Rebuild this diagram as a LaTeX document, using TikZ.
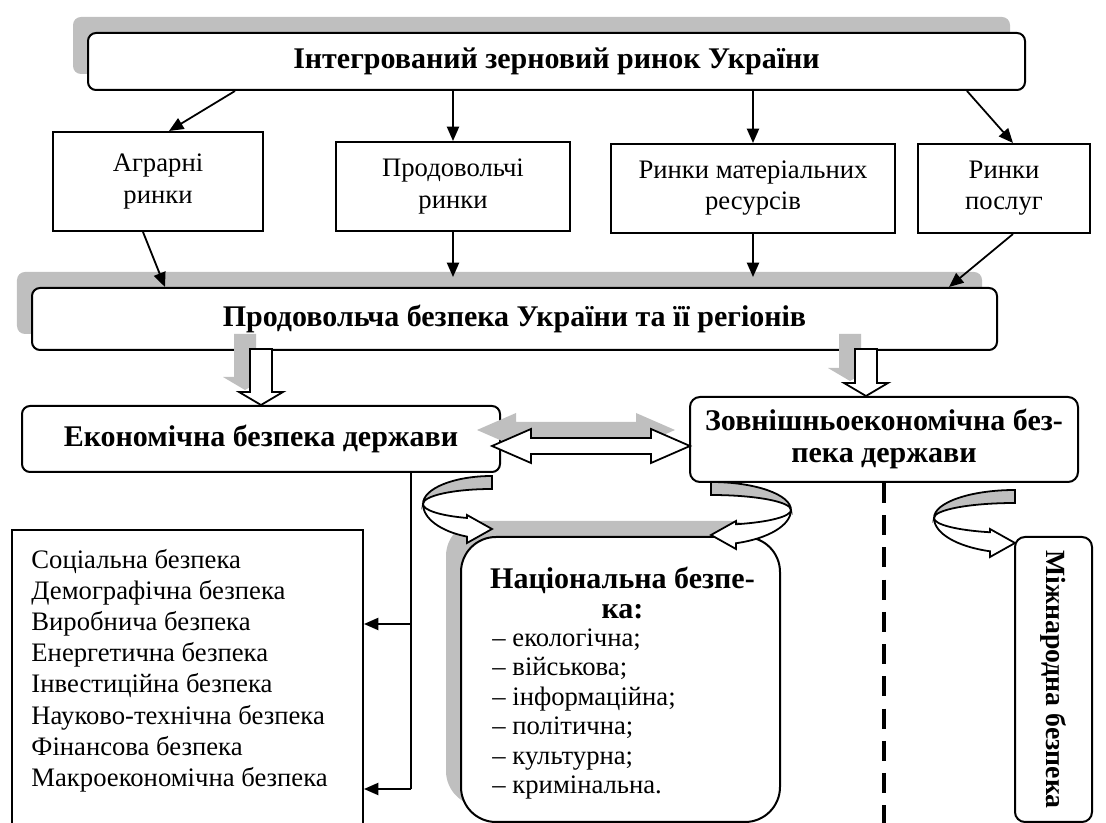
\documentclass[tikz,border=0pt]{standalone}
\usepackage{fontspec}
\setmainfont{Liberation Serif}
\usetikzlibrary{arrows.meta,calc,positioning,shadows}

% hollow block arrows
\newcommand\downshape[1]{(-11,-#1) -- (-11,-13) -- (-22,-13) -- (0,0) -- (22,-13) -- (11,-13) -- (11,-#1) -- cycle}
\newcommand\bothshape[1]{(0,0) -- (39,-17) -- (39,-8) -- ({#1-39},-8) -- ({#1-39},-17) -- (#1,0) -- ({#1-39},17) -- ({#1-39},8) -- (39,8) -- (39,17) -- cycle}

\tikzset{
	blkdown/.pic={
		\fill[gray!50, shift={(-16,-15)}] \downshape{#1};
		\filldraw[blk] \downshape{#1};
	},
	blkboth/.pic={
		\fill[gray!50, shift={(-15,-16)}] \bothshape{#1};
		\filldraw[blk] \bothshape{#1};
	},
	curl/.pic={
		\pgfmathsetmacro\ta{acos(-25/#1)}
		\filldraw[blk, fill=gray!50] (0,-28) arc[start angle=270, end angle=180, x radius=#1, y radius=28]
			arc[start angle=180, end angle=270, x radius=#1, y radius=15] -- cycle;
		\filldraw[blk] (-#1,0) arc[start angle=180, end angle=\ta, x radius=#1, y radius=15]
			-- (-25,11) -- (0,25) -- (-25,39) -- (-25,{35*sin(\ta)})
			arc[start angle=\ta, end angle=180, x radius=#1, y radius=35] -- cycle;
	}
}

\begin{document}
\begin{tikzpicture}[x=0.45pt, y=-0.45pt,
		basic/.style = {draw, line width=0.9pt, fill=white, inner sep=0pt},
		sz/.style 2 args = {minimum width=#1*0.45pt, minimum height=#2*0.45pt},
		rnd/.style   = {basic, rounded corners=3.6pt},
		shd/.style   = {drop shadow={shadow xshift=-6.75pt, shadow yshift=7.2pt, fill=gray!50, opacity=1}},
		mkt/.style   = {basic, align=center, font=\fontsize{12}{14}\selectfont},
		hdr/.style   = {font=\fontsize{13.5}{14.4}\selectfont\bfseries},
		txt/.style   = {inner sep=0pt, align=left, font=\fontsize{12}{14}\selectfont},
		arr/.style   = {-{Triangle[length=6.5pt,width=5.5pt]}, line width=0.8pt},
		blk/.style   = {draw, line width=0.8pt, fill=white},
		>=latex]
	\useasboundingbox (0,0) rectangle (1106,823);
	\clip (0,0) rectangle (1106,823);
	
	\node[rnd, shd, hdr, sz={937}{57}] (top) at (556.5,61.5) {Інтегрований зерновий ринок України};
	
	\node[mkt, sz={210}{99}] (agr) at (158,181.5) {Аграрні\\ринки};
	\node[mkt, sz={234}{89}] (food) at (453,186.5) {Продовольчі\\ринки};
	\node[mkt, sz={284}{89}] (mat) at (753,188.5) {Ринки матеріальних\\ресурсів};
	\node[mkt, sz={172}{89}] (serv) at (1004,188.5) {Ринки\\послуг};
	
	\node[rnd, shd, hdr, sz={965}{62}] (prod) at (514.5,319) {Продовольча безпека України та її регіонів};
	
	\node[rnd, hdr, sz={478}{66}] (eco) at (261,439) {Економічна безпека держави};
	\node[rnd, hdr, align=center, rounded corners=4.5pt, sz={388}{85}, text depth=3pt] (ext) at (884,439.5) {Зовнішньоекономічна без-\\пека держави};
	
	\node[basic, sz={351}{310}] (list) at (187.5,685) {};
	\node[txt, anchor=north west] (listtxt) at ($(list.north west)+(20,20)$) {Соціальна безпека\\Демографічна безпека\\Виробнича безпека\\Енергетична безпека\\Інвестиційна безпека\\Науково-технічна безпека\\Фінансова безпека\\Макроекономічна безпека};
	
	\node[basic, shd, rounded corners=15.75pt, sz={319}{285}] (nat) at (620.5,679.5) {};
	\node[hdr, align=center, inner sep=0pt, anchor=north, font=\fontsize{13.5}{13.3}\selectfont\bfseries] (nattitle) at ($(nat.north)+(2,31)$) {Національна безпе-\\ка:};
	\node[txt, anchor=north west, font=\fontsize{12}{13.3}\selectfont] (natlist) at ($(nat.north west)+(32,92)$) {-- екологічна;\\-- військова;\\-- інформаційна;\\-- політична;\\-- культурна;\\-- кримінальна.};
	
	\node[rnd, hdr, rotate=-90, rounded corners=4.5pt, sz={285}{77}, font=\fontsize{12.5}{14}\selectfont\bfseries] (intl) at (1053.5,679.5) {Міжнародна безпека};
	
	% thin arrows
	\draw[arr] ($(top.south west)+(148,0)$) -- ($(agr.north)+(11,0)$);
	\draw[arr] (top.south -| food.north) -- (food.north);
	\draw[arr] (top.south -| mat.north) -- (mat.north);
	\draw[arr] ($(top.south east)+(-59,0)$) -- ($(serv.north)+(9,0)$);
	
	\draw[arr] ($(agr.south)+(-15,0)$) -- ($(prod.north west)+(134,0)$);
	\draw[arr, shorten >=4.5pt] (food.south) -- (prod.north -| food.south);
	\draw[arr, shorten >=4.5pt] (mat.south) -- (prod.north -| mat.south);
	\draw[arr] ($(serv.south)+(9,0)$) -- ($(prod.north east)+(-49,0)$);
	
	% block arrows
	\pic at (eco.north) {blkdown=56};
	\pic at ($(ext.north)+(-18,0)$) {blkdown=47};
	\pic at ($(eco.east)+(-9,7)$) {blkboth=198};
	
	\pic at ($(eco.south east)+(-9,31)$) {curl=69};
	\pic[xscale=-1] at ($(ext.south west)+(22,27)$) {curl=80};
	\pic at ($(ext.south east)+(-64,35)$) {curl=81};
	
	% links to the list
	\coordinate (j1) at ($(eco.south west)+(390,151)$);
	\coordinate (j2) at ($(eco.south west)+(390,316)$);
	\draw[line width=0.8pt] (eco.south -| j1) -- (j2);
	\draw[arr] (j1) -- (j1 -| list.east);
	\draw[arr] (j2) -- (j2 -| list.east);
	
	\coordinate (bot) at (0,830);
	\draw[line width=1.4pt, dash pattern=on 9pt off 5.5pt] (ext.south) -- (ext.south |- bot);
	
\end{tikzpicture}
\end{document}
